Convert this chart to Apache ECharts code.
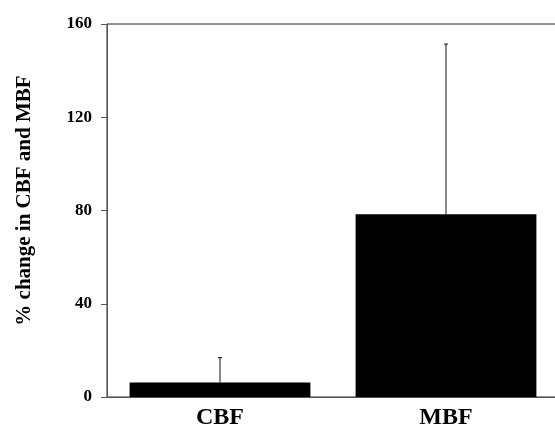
<!DOCTYPE html>
<html>
<head>
<meta charset="utf-8">
<script src="https://cdn.jsdelivr.net/npm/echarts@6/dist/echarts.min.js"></script>
<style>
  html, body { margin: 0; padding: 0; background: #fff; }
  #chart { width: 555px; height: 428px; }
</style>
</head>
<body>
<div id="chart"></div>
<script>
// data
const categories = ["CBF", "MBF"];
const means = [6.2, 78.4];
const errUpper = [16.9, 151.4]; // top of the error bar
const yTicks = [0, 40, 80, 120, 160];

const serif = "'Liberation Serif', 'DejaVu Serif', serif";
const chart = echarts.init(document.getElementById("chart"));

const option = {
  animation: false,
  backgroundColor: "#fff",
  grid: {
    left: 107,
    top: 24,
    width: 452,
    height: 373,
    outerBoundsMode: "none",
    show: true,
    borderColor: "#222",
    borderWidth: 1
  },
  xAxis: {
    type: "category",
    data: categories,
    axisLine: { lineStyle: { color: "#555", width: 1 } },
    axisTick: { show: false },
    axisLabel: {
      margin: 9,
      fontFamily: serif,
      fontWeight: "bold",
      fontSize: 24,
      color: "#000"
    }
  },
  yAxis: {
    type: "value",
    min: yTicks[0],
    max: yTicks[yTicks.length - 1],
    interval: 40,
    name: "% change in CBF and MBF",
    nameLocation: "middle",
    nameGap: 72,
    nameTextStyle: {
      fontFamily: serif,
      fontWeight: "bold",
      fontSize: 21,
      color: "#000",
      padding: [0, 0, 0, 20]
    },
    splitLine: { show: false },
    axisLine: { show: true, lineStyle: { color: "#555", width: 1 } },
    axisTick: { show: true, length: 6, lineStyle: { color: "#555" } },
    axisLabel: {
      margin: 15,
      fontFamily: serif,
      fontWeight: "bold",
      fontSize: 17,
      color: "#000"
    }
  },
  series: [
    {
      type: "bar",
      data: means,
      barWidth: "80%",
      itemStyle: { color: "#000" }
    },
    {
      type: "custom",
      data: categories.map((c, i) => [i, means[i], errUpper[i]]),
      renderItem: function (params, api) {
        const base = api.coord([api.value(0), api.value(1)]);
        const top = api.coord([api.value(0), api.value(2)]);
        return {
          type: "group",
          children: [
            {
              type: "line",
              shape: { x1: base[0], y1: base[1], x2: top[0], y2: top[1] },
              style: { stroke: "#111", lineWidth: 1 }
            },
            {
              type: "line",
              shape: { x1: top[0] - 2, y1: top[1], x2: top[0] + 2, y2: top[1] },
              style: { stroke: "#111", lineWidth: 1 }
            }
          ]
        };
      },
      z: 5
    }
  ]
};

chart.setOption(option);
</script>
</body>
</html>
